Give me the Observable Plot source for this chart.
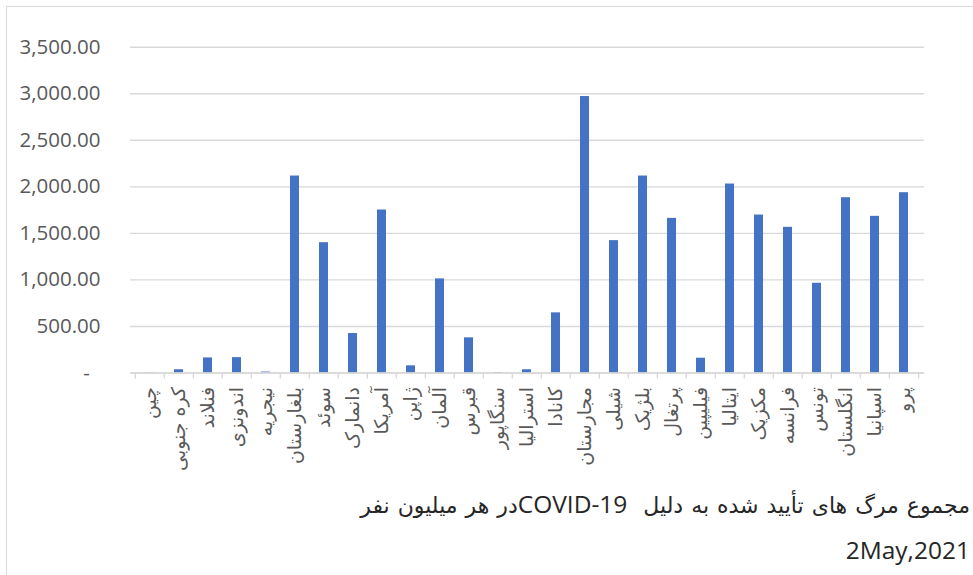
<!DOCTYPE html>
<html>
<head>
<meta charset="utf-8">
<script src="https://cdn.jsdelivr.net/npm/d3@7"></script>
<script src="https://cdn.jsdelivr.net/npm/@observablehq/plot@0.6"></script>
<style>
  html, body { margin: 0; padding: 0; background: #fff; }
  #wrap { position: relative; width: 973px; height: 575px; overflow: hidden; background: #fff; }
  #frame { position: absolute; left: 6px; top: 6px; width: 1000px; height: 1000px; border-top: 1.5px solid #d9d9d9; border-left: 1.5px solid #d9d9d9; }
  #chart { position: absolute; left: 0; top: 0; }
  .cap { position: absolute; right: 3px; white-space: nowrap; color: #262626; }
  #cap1 { top: 487px; direction: rtl; text-align: right; font-family: "DejaVu Sans", serif; font-size: 22px; word-spacing: 1px; }
  #cap1 .latin { font-family: "Open Sans", sans-serif; font-size: 24.5px; word-spacing: 0; }
  #cap2 { top: 533px; font-family: "Open Sans", sans-serif; font-size: 24.5px; }
</style>
</head>
<body>
<div id="wrap">
  <div id="frame"></div>
  <div id="chart"></div>
  <div class="cap" id="cap1">مجموع مرگ های تأیید شده به دلیل&nbsp;&nbsp;<span class="latin">COVID-19</span>در هر میلیون نفر</div>
  <div class="cap" id="cap2">2May,2021</div>
</div>
<script>
const categories = ["چین", "کره جنوبی", "فنلاند", "اندونزی", "نیجریه", "بلغارستان", "سوئد", "دانمارک", "آمریکا", "ژاپن", "آلمان", "قبرس", "سنگاپور", "استرالیا", "کانادا", "مجارستان", "شیلی", "بلژیک", "پرتغال", "فیلیپین", "ایتالیا", "مکزیک", "فرانسه", "تونس", "انگلستان", "اسپانیا", "پرو"];
const values = [3, 35, 162, 165, 10, 2116, 1400, 424, 1751, 77, 1011, 378, 5, 35, 646, 2970, 1422, 2116, 1661, 159, 2030, 1697, 1565, 964, 1883, 1683, 1937];
const yTicks = [0, 500, 1000, 1500, 2000, 2500, 3000, 3500];

const data = categories.map((c, i) => ({country: c, value: values[i]}));

const W = 973, H = 480;
const mL = 130, mR = 49, mT = 46.7, mB = 107.5;
const step = (W - mL - mR) / categories.length;
const fmt = d => d === 0 ? "-\u00a0\u00a0" : d3.format(",.2f")(d);

const chart = Plot.plot({
  width: W,
  height: H,
  marginLeft: mL,
  marginRight: mR,
  marginTop: mT,
  marginBottom: mB,
  style: {background: "transparent", color: "#595959"},
  x: {domain: categories, paddingInner: 0.68, paddingOuter: 0.34, label: null},
  y: {domain: [0, 3500], label: null},
  marks: [
    Plot.gridY(yTicks, {stroke: "#d9d9d9", strokeOpacity: 1, strokeWidth: 1.4}),
    Plot.axisY(yTicks, {tickSize: 0, tickPadding: 30, tickFormat: fmt, fontSize: 20.5, fontFamily: "Open Sans, sans-serif", fill: "#595959"}),
    Plot.barY(data, {x: "country", y: "value", fill: "#4472c4"}),
    Plot.ruleY([0], {stroke: "#d9d9d9", strokeWidth: 1.4}),
    Plot.axisX({tickSize: 6, tickFormat: () => "", dx: -step / 2, stroke: "#d9d9d9", strokeOpacity: 1, strokeWidth: 1.4}),
    Plot.axisX([categories[categories.length - 1]], {tickSize: 6, tickFormat: () => "", dx: step / 2, stroke: "#d9d9d9", strokeOpacity: 1, strokeWidth: 1.4}),
    Plot.axisX({tickSize: 0, tickPadding: 14, tickRotate: -90, textAnchor: "end", fontSize: 19, fontFamily: "DejaVu Sans, sans-serif", fill: "#595959"})
  ]
});
document.getElementById("chart").appendChild(chart);
</script>
</body>
</html>
